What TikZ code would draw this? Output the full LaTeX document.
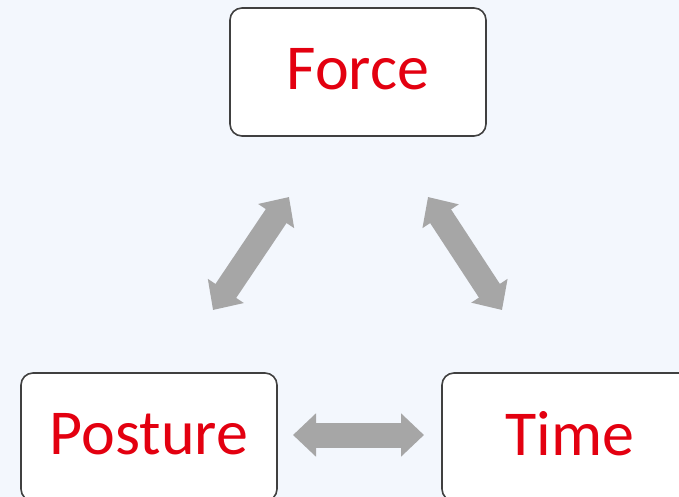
\documentclass[tikz,border=0pt]{standalone}
\usepackage{fontspec}
\setmainfont{Carlito}
\usetikzlibrary{arrows.meta}
\definecolor{pagebg}{HTML}{F3F7FD}
\definecolor{boxline}{HTML}{404040}
\definecolor{labelred}{HTML}{E30010}
\definecolor{arrowgray}{HTML}{A6A6A6}
\tikzset{
  factor/.style={draw=boxline, line width=1.6pt, fill=white, rounded corners=12pt,
    minimum width=256pt, minimum height=128pt, inner sep=0pt,
    text=labelred, font=\fontsize{64}{70}\selectfont, text depth=7pt},
  biarrow/.style={draw=arrowgray, line width=25pt, line cap=butt,
    {Triangle[length=23pt,width=42pt]}-{Triangle[length=23pt,width=42pt]}}
}
\begin{document}
\begin{tikzpicture}[x=1pt,y=-1pt]
  % page and background
  \fill[pagebg] (0,0) rectangle (679,497);
  \useasboundingbox (0,0) rectangle (679,497);

  % the three factors
  \node[factor] (force)   at (358,72)  {Force};
  \node[factor] (posture) at (149,437) {Posture};
  \node[factor] (time)    at (570,437) {Time};

  % ends of the two-way arrows
  \coordinate (fl) at (289,197);
  \coordinate (pl) at (213,310);
  \coordinate (fr) at (428,197);
  \coordinate (tr) at (502,310);
  \coordinate (ph) at (293,435);
  \coordinate (th) at (424,435);

  \draw[biarrow] (pl) -- (fl);
  \draw[biarrow] (fr) -- (tr);
  \draw[biarrow] (ph) -- (th);
\end{tikzpicture}
\end{document}
